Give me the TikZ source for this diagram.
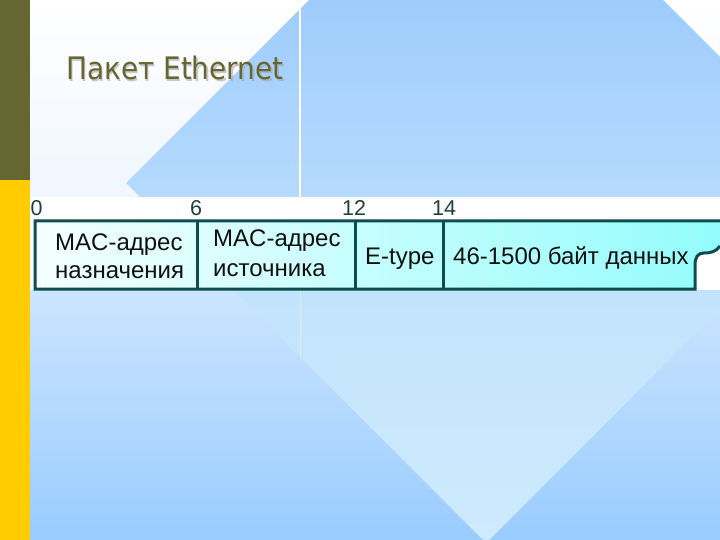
\documentclass[tikz,border=0pt]{standalone}
\usepackage{fontspec}
\setmainfont{Liberation Sans}
\newfontfamily\titlefont[FakeStretch=0.9]{DejaVu Sans}

\definecolor{olivebar}{HTML}{666633}
\definecolor{yellowbar}{HTML}{FFCC00}
\definecolor{bgmid}{HTML}{F0F6FF}
\definecolor{bglow}{HTML}{CCE4FF}
\definecolor{bgdeep}{HTML}{99CCFF}
\definecolor{dmtop}{HTML}{9FCCFC}
\definecolor{dmmid}{HTML}{B6DAFE}
\definecolor{dmlow}{HTML}{C2E3FD}
\definecolor{dmbot}{HTML}{CEEBFD}
\definecolor{boxL}{HTML}{F4FFFF}
\definecolor{boxR}{HTML}{94FCFC}
\definecolor{boxedge}{HTML}{0F4C4C}
\definecolor{posink}{HTML}{1F4040}
\definecolor{fieldink}{HTML}{101010}

\begin{document}
\begin{tikzpicture}[x=1pt,y=-1pt,
  fieldtext/.style={
    anchor=base west,
    inner sep=0pt,
    font=\fontsize{24}{29}\selectfont,
    text=fieldink
  },
  bytepos/.style={
    anchor=base,
    inner sep=0pt,
    font=\fontsize{21.5}{25}\selectfont,
    text=posink
  },
  boxline/.style={
    draw=boxedge,
    line width=3pt
  }
]
  \useasboundingbox (0,0) rectangle (720,540);

  % side bar
  \fill[olivebar] (0,0) rectangle (30,180);
  \fill[yellowbar] (0,180) rectangle (30,540);

  % background and diamond
  \shade[top color=white, bottom color=bgmid] (30,0) rectangle (720,200);
  \shade[top color=bglow, bottom color=bgdeep] (30,290) rectangle (720,540);
  \coordinate (dW) at (126,183);
  \coordinate (dN) at (486,-177);
  \coordinate (dE) at (846,183);
  \coordinate (dS) at (486,543);
  \begin{scope}
    \clip (dW) -- (dN) -- (dE) -- (dS) -- cycle;
    \shade[top color=dmtop, bottom color=dmmid] (30,0) rectangle (720,200);
    \shade[top color=dmlow, bottom color=dmbot] (30,290) rectangle (720,540);
  \end{scope}
  \coordinate (vA) at (300,9);
  \coordinate (vB) at (300,357);
  \draw[white, line width=1.2pt] (vA) -- (300,200);
  \draw[white, opacity=.35] (300,290) -- (vB);

  % title
  \node[anchor=base west, inner sep=0pt, text=gray!70, opacity=.6,
    font=\titlefont\fontsize{31}{36}\selectfont] (titleshadow) at (67.5,81.5) {Пакет Ethernet};
  \node[anchor=base west, inner sep=0pt, text=olivebar,
    font=\titlefont\fontsize{31}{36}\selectfont] (title) at (66,80) {Пакет Ethernet};

  % white strip
  \fill[white] (30,197) rectangle (720,290);

  % frame
  \coordinate (o0) at (35,221);
  \coordinate (o6) at (197,221);
  \coordinate (o12) at (355,221);
  \coordinate (o14) at (443,221);
  \coordinate (cut) at (695,265);
  \shade[left color=boxL, right color=boxR]
    (o0) -- (720,221) -- (720,246) .. controls (716,252) and (710,253) .. (704,253)
    .. controls (698,253) and (695,257) .. (cut)
    -- (695,289) -- (35,289) -- cycle;
  \draw[boxline] (720,221) -- (o0) -- (35,289) -- (695,289) -- (cut)
    .. controls (695,257) and (698,253) .. (704,253)
    .. controls (710,253) and (716,252) .. (720,246);
  \draw[boxline] (o6) -- ++(0,68);
  \draw[boxline] (o12) -- ++(0,68);
  \draw[boxline] (o14) -- ++(0,68);

  % byte offsets
  \node[bytepos] (n0) at (36.5,215) {0};
  \node[bytepos] (n6) at (196,215) {6};
  \node[bytepos] (n12) at (354,215) {12};
  \node[bytepos] (n14) at (444,215) {14};

  % fields
  \node[fieldtext] (dstA) at (55,250) {MAC-адрес};
  \node[fieldtext] (dstB) at (55,278) {назначения};
  \node[fieldtext] (srcA) at (213,247) {MAC-адрес};
  \node[fieldtext] (srcB) at (213,276) {источника};
  \node[fieldtext] (etype) at (365,264) {E-type};
  \node[fieldtext] (data) at (453,264) {46-1500 байт данных};
\end{tikzpicture}
\end{document}
